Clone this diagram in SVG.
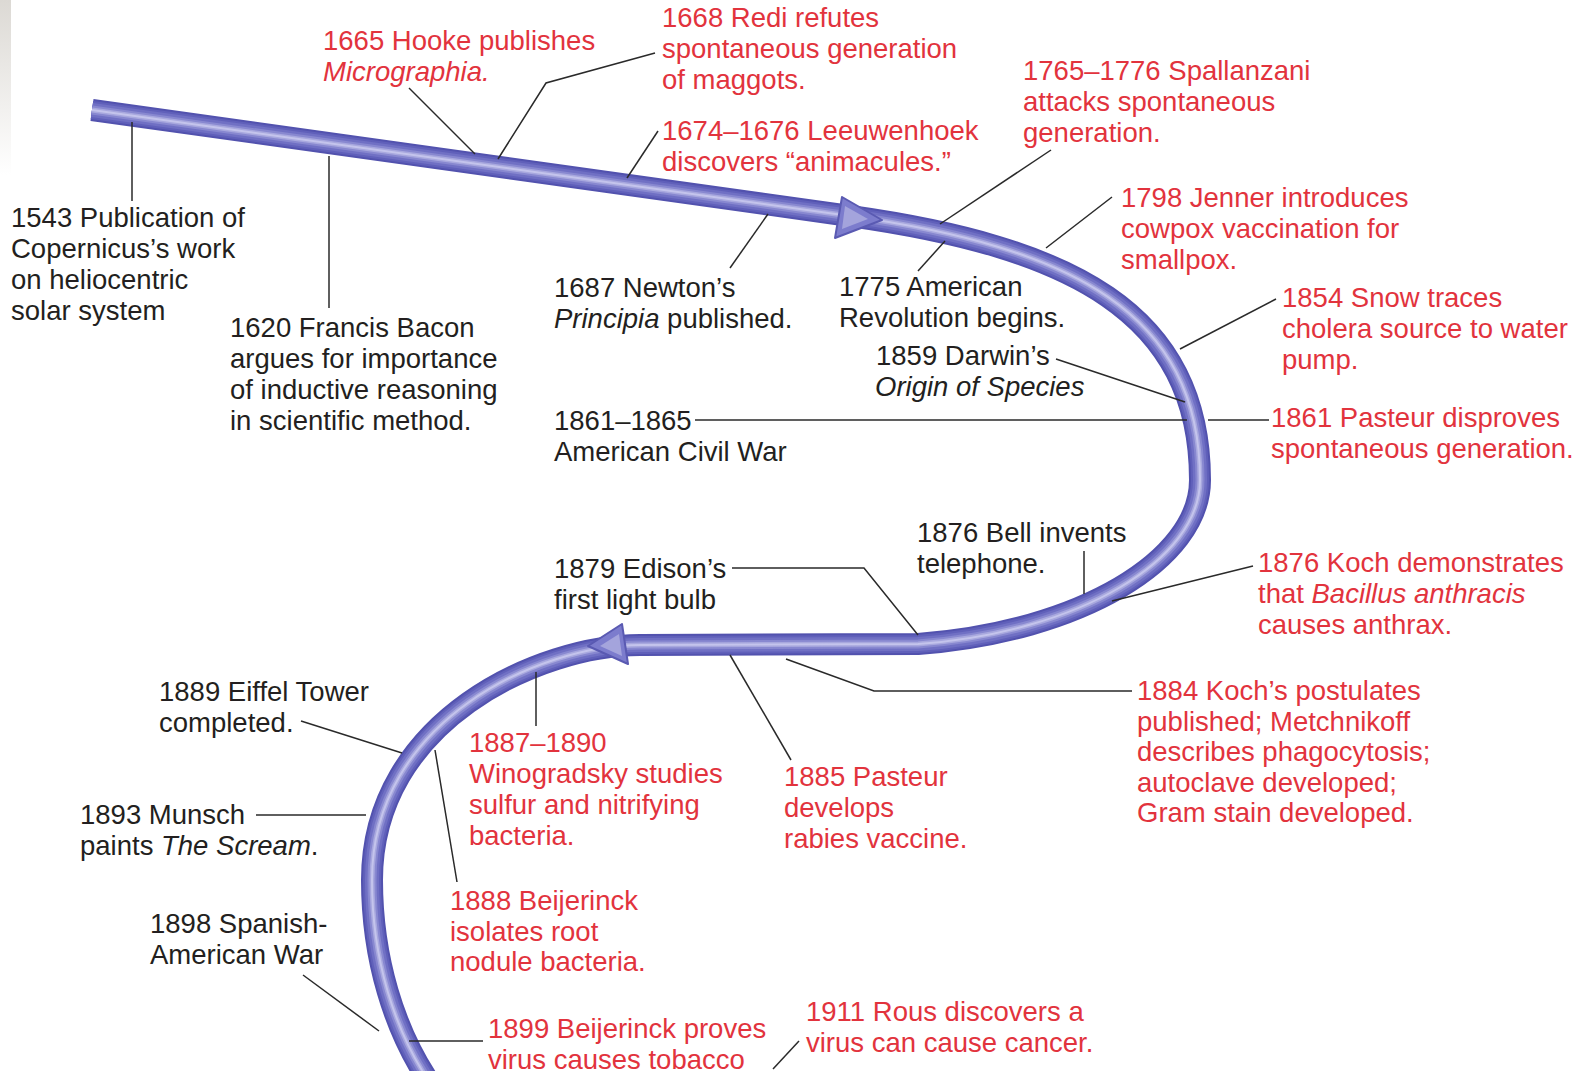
<svg xmlns="http://www.w3.org/2000/svg" width="1585" height="1071" viewBox="0 0 1585 1071">
<defs>
<linearGradient id="edgeGray" x1="0" y1="0" x2="0" y2="1">
<stop offset="0" stop-color="#dcd9d4"/>
<stop offset="1" stop-color="#ffffff"/>
</linearGradient>
<path id="tubePath" d="M92,110 L850,216 C1070,247 1200,312 1200,480 C1200,560 1080,632 918,644 L640,645 C540,645 372,720 372,880 C372,960 395,1030 428,1080"/>
<style>
text{font-family:"Liberation Sans",Arial,Helvetica,sans-serif;font-size:27.5px}
.r{fill:#e2333d}
.k{fill:#231f20}
.i{font-style:italic}
.ln{fill:none;stroke:#2a2a2a;stroke-width:1.5}
.t{fill:none;stroke-linejoin:round}
.ah{fill:#7c7ccd;stroke:#5a5ab2;stroke-width:2;stroke-linejoin:round}
.ahi{fill:#a4a4dc}
</style>
</defs>
<rect width="1585" height="1071" fill="#ffffff"/>
<rect x="0" y="0" width="11" height="175" fill="url(#edgeGray)"/>

<g id="timeline">
<use href="#tubePath" class="t" stroke="#5252ae" stroke-width="22"/>
<use href="#tubePath" class="t" stroke="#6060ba" stroke-width="18"/>
<use href="#tubePath" class="t" stroke="#7070c4" stroke-width="14"/>
<use href="#tubePath" class="t" stroke="#8888d0" stroke-width="9"/>
<use href="#tubePath" class="t" stroke="#a8a8de" stroke-width="5"/>
<use href="#tubePath" class="t" stroke="#c4c4ec" stroke-width="2"/>
<polygon class="ah" points="842,197 882,220 835,238"/>
<polygon class="ahi" points="845,206 868,219 842,229"/>
<polygon class="ah" points="622,624 588,646 628,664"/>
<polygon class="ahi" points="619,634 600,646 622,656"/>
</g>

<g id="connectors">
<line class="ln" x1="132" y1="122" x2="132" y2="201"/>
<line class="ln" x1="329" y1="156" x2="329" y2="308"/>
<polyline class="ln" points="409,88 475,154"/>
<polyline class="ln" points="655,53 546,83 498,159"/>
<polyline class="ln" points="658,131 627,178"/>
<polyline class="ln" points="768,214 730,268"/>
<polyline class="ln" points="1051,150 940,224"/>
<polyline class="ln" points="945,241 918,271"/>
<polyline class="ln" points="1112,197 1046,248"/>
<polyline class="ln" points="1276,299 1180,349"/>
<polyline class="ln" points="1056,359 1185,402"/>
<line class="ln" x1="695" y1="420" x2="1187" y2="420"/>
<line class="ln" x1="1208" y1="420" x2="1269" y2="420"/>
<line class="ln" x1="1084" y1="551" x2="1084" y2="594"/>
<polyline class="ln" points="1253,566 1112,601"/>
<polyline class="ln" points="732,568 864,568 918,635"/>
<polyline class="ln" points="1132,691 874,691 786,659"/>
<polyline class="ln" points="791,760 730,655"/>
<line class="ln" x1="536" y1="672" x2="536" y2="726"/>
<polyline class="ln" points="301,721 402,753"/>
<polyline class="ln" points="457,882 435,750"/>
<line class="ln" x1="256" y1="815" x2="366" y2="815"/>
<polyline class="ln" points="303,975 379,1031"/>
<line class="ln" x1="409" y1="1041" x2="483" y2="1041"/>
<polyline class="ln" points="773,1069 799,1041"/>
</g>

<g id="n1543"><text class="k" x="11" y="227">1543 Publication of<tspan x="11" dy="31">Copernicus’s work</tspan><tspan x="11" dy="31">on heliocentric</tspan><tspan x="11" dy="31">solar system</tspan></text></g>
<g id="n1620"><text class="k" x="230" y="337">1620 Francis Bacon<tspan x="230" dy="31">argues for importance</tspan><tspan x="230" dy="31">of inductive reasoning</tspan><tspan x="230" dy="31">in scientific method.</tspan></text></g>
<g id="n1665"><text class="r" x="323" y="50">1665 Hooke publishes<tspan x="323" dy="31" class="i">Micrographia.</tspan></text></g>
<g id="n1668"><text class="r" x="662" y="27">1668 Redi refutes<tspan x="662" dy="31">spontaneous generation</tspan><tspan x="662" dy="31">of maggots.</tspan></text></g>
<g id="n1674"><text class="r" x="662" y="140">1674–1676 Leeuwenhoek<tspan x="662" dy="31">discovers “animacules.”</tspan></text></g>
<g id="n1687"><text class="k" x="554" y="297">1687 Newton’s<tspan x="554" dy="30.5" class="i">Principia</tspan><tspan> published.</tspan></text></g>
<g id="n1765"><text class="r" x="1023" y="80">1765–1776 Spallanzani<tspan x="1023" dy="31">attacks spontaneous</tspan><tspan x="1023" dy="31">generation.</tspan></text></g>
<g id="n1775"><text class="k" x="839" y="296">1775 American<tspan x="839" dy="30.5">Revolution begins.</tspan></text></g>
<g id="n1798"><text class="r" x="1121" y="207">1798 Jenner introduces<tspan x="1121" dy="31">cowpox vaccination for</tspan><tspan x="1121" dy="31">smallpox.</tspan></text></g>
<g id="n1854"><text class="r" x="1282" y="307">1854 Snow traces<tspan x="1282" dy="31">cholera source to water</tspan><tspan x="1282" dy="31">pump.</tspan></text></g>
<g id="n1859"><text class="k" x="876" y="365">1859 Darwin’s<tspan x="875" dy="30.5" class="i">Origin of Species</tspan></text></g>
<g id="n1861w"><text class="k" x="554" y="430">1861–1865<tspan x="554" dy="31">American Civil War</tspan></text></g>
<g id="n1861p"><text class="r" x="1271" y="427">1861 Pasteur disproves<tspan x="1271" dy="31">spontaneous generation.</tspan></text></g>
<g id="n1876b"><text class="k" x="917" y="542">1876 Bell invents<tspan x="917" dy="31">telephone.</tspan></text></g>
<g id="n1879"><text class="k" x="554" y="578">1879 Edison’s<tspan x="554" dy="30.5">first light bulb</tspan></text></g>
<g id="n1876k"><text class="r" x="1258" y="572">1876 Koch demonstrates<tspan x="1258" dy="31">that </tspan><tspan class="i">Bacillus anthracis</tspan><tspan x="1258" dy="31">causes anthrax.</tspan></text></g>
<g id="n1884"><text class="r" x="1137" y="700">1884 Koch’s postulates<tspan x="1137" dy="30.6">published; Metchnikoff</tspan><tspan x="1137" dy="30.6">describes phagocytosis;</tspan><tspan x="1137" dy="30.6">autoclave developed;</tspan><tspan x="1137" dy="30.6">Gram stain developed.</tspan></text></g>
<g id="n1885"><text class="r" x="784" y="786">1885 Pasteur<tspan x="784" dy="30.8">develops</tspan><tspan x="784" dy="30.8">rabies vaccine.</tspan></text></g>
<g id="n1887"><text class="r" x="469" y="752">1887–1890<tspan x="469" dy="31">Winogradsky studies</tspan><tspan x="469" dy="31">sulfur and nitrifying</tspan><tspan x="469" dy="31">bacteria.</tspan></text></g>
<g id="n1889"><text class="k" x="159" y="701">1889 Eiffel Tower<tspan x="159" dy="31">completed.</tspan></text></g>
<g id="n1893"><text class="k" x="80" y="824">1893 Munsch<tspan x="80" dy="30.5">paints </tspan><tspan class="i">The Scream</tspan><tspan>.</tspan></text></g>
<g id="n1888"><text class="r" x="450" y="910">1888 Beijerinck<tspan x="450" dy="30.5">isolates root</tspan><tspan x="450" dy="30.5">nodule bacteria.</tspan></text></g>
<g id="n1898"><text class="k" x="150" y="933">1898 Spanish-<tspan x="150" dy="30.5">American War</tspan></text></g>
<g id="n1899"><text class="r" x="488" y="1038">1899 Beijerinck proves<tspan x="488" dy="30.5">virus causes tobacco</tspan></text></g>
<g id="n1911"><text class="r" x="806" y="1021">1911 Rous discovers a<tspan x="806" dy="30.5">virus can cause cancer.</tspan></text></g>
</svg>
